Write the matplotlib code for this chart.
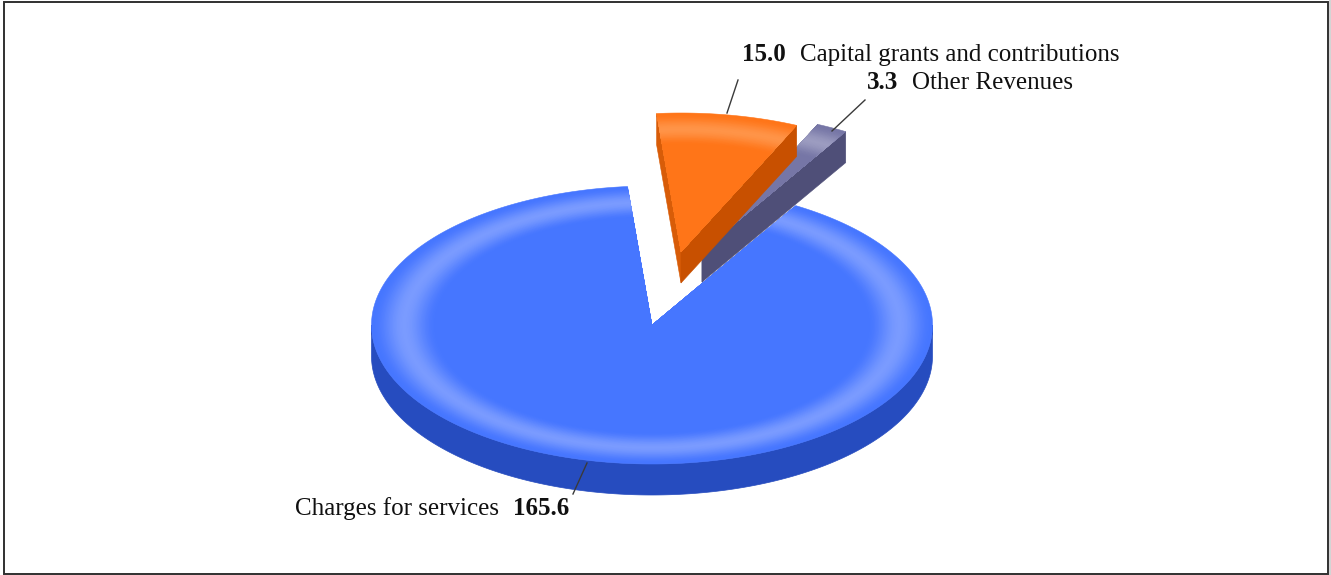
import numpy as np
import matplotlib
matplotlib.use("Agg")
import matplotlib.pyplot as plt
from matplotlib.colors import to_rgb
from matplotlib.patches import Polygon, Rectangle

# Data
categories = ["Capital grants and contributions", "Other Revenues", "Charges for services"]
values = [15.0, 3.3, 165.6]

# Styling / layout (pixel space)
W, H = 1331, 575
CENTER = (652, 325)
RX, RY, DEPTH = 280.5, 139, 31
START_DEG = -5.0
OFFSETS = [(29, -73), (50, -74), (0, 0)]
TOP = ["#ff7518", "#7676a6", "#4676ff"]
HILITE = ["#ff9448", "#9c9cc0", "#7a9bff"]
SIDE = ["#c85000", "#4f4f78", "#264cbf"]
WALL = ["#d85c08", "#4f4f78", "#264cbf"]
LEADERS = [((727, 113), (738, 80)), ((832, 131), (865, 100)), ((587, 463), (573, 494))]

fig = plt.figure(figsize=(W / 100, H / 100), dpi=100, facecolor="white")
ax = fig.add_axes([0, 0, 1, 1])
ax.set_xlim(0, W)
ax.set_ylim(H, 0)
ax.axis("off")


def pt(theta, r, off, dz=0):
    """theta in degrees clockwise from north, r as fraction of the radius."""
    t = np.radians(theta)
    return np.column_stack([CENTER[0] + off[0] + RX * r * np.sin(t),
                            CENTER[1] + off[1] - RY * r * np.cos(t) + dz])


def mix(a, b, f):
    a, b = np.array(to_rgb(a)), np.array(to_rgb(b))
    return tuple(a + (b - a) * f)


def bevel(r):
    if r >= 0.885:
        f = (1 - r) / 0.115
    elif r >= 0.77:
        f = (r - 0.77) / 0.115
    else:
        f = 0.0
    return f * f * (3 - 2 * f)


def draw_wedge(a0, a1, off, i, z):
    th = np.linspace(a0, a1, max(int(abs(a1 - a0) * 3), 8))
    apex = pt(0, 0, off)
    if i == 2:
        # only the lower half of the pie wall is seen from above
        vis = np.linspace(90, 270, 360)
        rim = pt(vis, 1, off)
        low = pt(vis, 1, off, DEPTH)
        ax.add_patch(Polygon(np.vstack([rim, low[::-1]]), fc=SIDE[i], ec=SIDE[i], lw=0.5, zorder=z))
    else:
        # straight walls of the pulled-out slices
        left_end = pt([a0], 1, off)[0]
        right_end = pt([a1], 1, off)[0]
        ax.add_patch(Polygon([apex[0], left_end, left_end + [0, DEPTH], apex[0] + [0, DEPTH]],
                             fc=WALL[i], ec=WALL[i], lw=0.4, zorder=z))
        ax.add_patch(Polygon([apex[0], right_end, right_end + [0, DEPTH], apex[0] + [0, DEPTH]],
                             fc=SIDE[i], ec=SIDE[i], lw=0.4, zorder=z + 0.1))
    # top face, painted as nested sectors to give the rim its soft bevel
    for k, r in enumerate(np.linspace(1, 0.76, 49)):
        col = mix(TOP[i], HILITE[i], bevel(r))
        poly = np.vstack([apex, pt(th, r, off)])
        ax.add_patch(Polygon(poly, fc=col, ec=col if k == 0 else "none",
                             lw=0.4 if k == 0 else 0, zorder=z + 0.2 + k * 1e-3))


# Slice angles follow from the values
total = sum(values)
spans = [v / total * 360 for v in values]
edges = START_DEG + np.concatenate([[0], np.cumsum(spans)])

# Back to front: big pie, thin slice, orange slice
draw_wedge(edges[2], edges[3], OFFSETS[2], 2, 2)
draw_wedge(edges[1], edges[2], OFFSETS[1], 1, 3)
draw_wedge(edges[0], edges[1], OFFSETS[0], 0, 4)

for (p0, p1) in LEADERS:
    ax.plot([p0[0], p1[0]], [p0[1], p1[1]], color="#3a3a3a", lw=1.0, zorder=6)

serif = "Liberation Serif"
FS = 18.0
kw = dict(family=serif, fontsize=FS, color="#101010", va="baseline", zorder=7)
ax.text(742, 61, f"{values[0]:.1f}", fontweight="bold", ha="left", **kw)
ax.text(800, 61, categories[0], ha="left", **kw)
ax.text(867, 89, f"{values[1]:.1f}", fontweight="bold", ha="left", **kw)
ax.text(912, 89, categories[1], ha="left", **kw)
ax.text(295, 515, categories[2], ha="left", **kw)
ax.text(513, 515, f"{values[2]:.1f}", fontweight="bold", ha="left", **kw)

# Frame
ax.add_patch(Rectangle((3.5, 1.5), 1324.5, 572.5, fc="none", ec="#303030", lw=1.4, zorder=8))
ax.add_patch(Rectangle((1329, 0), 2, H, fc="#d4d4d4", ec="none", zorder=8))

fig.savefig("out.png", dpi=100)
